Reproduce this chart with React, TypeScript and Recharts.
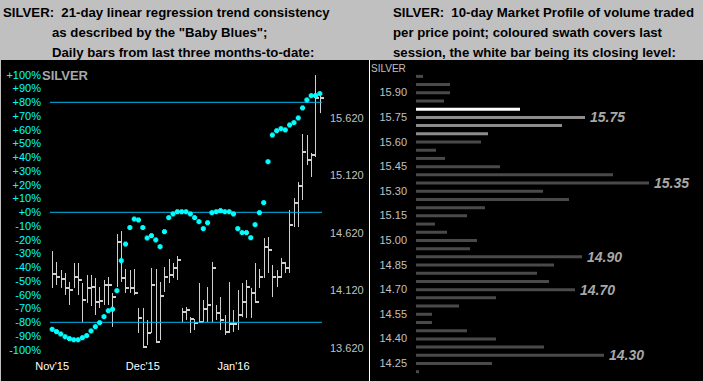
import React from 'react';
import { ComposedChart, BarChart, Bar, Scatter, XAxis, YAxis, ReferenceLine, Cell, LabelList } from 'recharts';

// daily bars, Nov'15 -> early Feb'16
const highs = [14.463, 14.368, 14.298, 14.272, 14.194, 14.359, 14.359, 14.185, 14.255, 14.255, 14.229, 14.15, 14.211, 14.237, 14.098, 14.611, 14.637, 14.307, 14.298, 14.307, 13.968, 13.968, 13.863, 14.316, 14.307, 14.194, 14.324, 14.394, 14.359, 14.42, 13.968, 13.976, 13.889, 13.872, 14.185, 14.037, 14.15, 14.368, 13.994, 14.063, 13.907, 14.194, 13.95, 14.124, 14.185, 14.211, 14.142, 14.359, 14.307, 14.576, 14.585, 14.342, 14.298, 14.403, 14.368, 14.82, 14.924, 15.063, 15.481, 15.472, 15.316, 15.994, 15.846];
const lows = [14.142, 14.168, 14.142, 14.081, 13.994, 14.142, 14.081, 13.846, 14.011, 13.985, 13.907, 13.968, 13.994, 13.994, 13.803, 14.15, 14.194, 14.098, 14.098, 14.081, 13.75, 13.62, 13.646, 13.75, 13.663, 13.689, 14.107, 14.185, 14.229, 14.211, 13.846, 13.863, 13.75, 13.776, 13.846, 13.846, 13.846, 13.846, 13.863, 13.776, 13.733, 13.75, 13.759, 13.776, 13.889, 13.881, 13.881, 14.011, 14.142, 14.229, 14.272, 14.063, 14.15, 14.229, 14.272, 14.272, 14.672, 14.672, 14.907, 15.211, 15.107, 15.281, 15.663];
const closes = [14.263, 14.237, 14.22, 14.142, 14.124, 14.237, 14.211, 14.037, 14.142, 14.15, 14.02, 14.029, 14.168, 14.168, 14.063, 14.542, 14.229, 14.142, 14.142, 14.098, 13.881, 13.629, 13.75, 14.168, 13.672, 14.072, 14.237, 14.255, 14.316, 14.385, 13.933, 13.95, 13.872, 13.837, 13.846, 13.959, 13.994, 14.316, 13.924, 13.863, 13.759, 13.829, 13.829, 13.907, 14.02, 14.15, 14.098, 14.02, 14.237, 14.498, 14.472, 14.237, 14.237, 14.359, 14.316, 14.689, 14.881, 15.029, 15.324, 15.255, 15.298, 15.794, 15.794];
// "Baby Blues" trend consistency, %
const blues = [-85.1, -86.8, -88.5, -90.5, -91.9, -92.7, -92.7, -91.2, -89.7, -86.3, -83.2, -80.3, -75.9, -71.6, -70.5, -57, -35.2, -23.1, -11.1, -4.9, -5.6, -11.1, -18.7, -17, -20.1, -25, -14.1, -3.9, -1.2, 0.4, 0.4, 0.4, -1.2, -3.9, -6.8, -11.9, -7.6, -0.3, 0.4, 1.2, 0.4, 0.4, -1.2, -11.9, -14.8, -14.8, -18.5, -9, -0.3, 7, 36.8, 56.2, 59.3, 60.8, 59.9, 63.5, 65.2, 68.6, 75.9, 81.7, 84.8, 84.8, 86.3];

const monthTicks = [0, 21, 42];
const monthLabels = ["Nov'15", "Dec'15", "Jan'16"];
const pctTicks = [100, 90, 80, 70, 60, 50, 40, 30, 20, 10, 0, -10, -20, -30, -40, -50, -60, -70, -80, -90, -100];
const priceTicks = [15.62, 15.12, 14.62, 14.12, 13.62];
const trendLevels = [80, 0, -80];

// 10-day market profile
const profilePrices = ['16.00', '15.95', '15.90', '15.85', '15.80', '15.75', '15.70', '15.65', '15.60', '15.55', '15.50', '15.45', '15.40', '15.35', '15.30', '15.25', '15.20', '15.15', '15.10', '15.05', '15.00', '14.95', '14.90', '14.85', '14.80', '14.75', '14.70', '14.65', '14.60', '14.55', '14.50', '14.45', '14.40', '14.35', '14.30', '14.25', '14.20'];
const profileVolume = [7, 34, 34, 28, 104, 169, 146, 72, 65, 20, 29, 84, 197, 233, 127, 153, 69, 51, 19, 31, 61, 54, 166, 138, 121, 133, 159, 80, 43, 16, 16, 51, 80, 128, 188, 76, 3];
const profileTickLabels = ['15.90', '15.75', '15.60', '15.45', '15.30', '15.15', '15.00', '14.85', '14.70', '14.55', '14.40', '14.25'];
const swathPrices = ['15.75', '15.70', '15.65'];
const closingPrice = '15.80';
const volumePeaks = ['15.75', '15.35', '14.90', '14.70', '14.30'];

const days = highs.map((h, i) => ({
  i,
  range: [lows[i], h],
  high: h,
  low: lows[i],
  close: closes[i],
  blue: blues[i],
}));

const profile = profilePrices.map((p, i) => ({
  price: p,
  volume: profileVolume[i],
  peak: volumePeaks.includes(p) ? p : undefined,
}));

const font = '"Liberation Sans", Arial, sans-serif';

const DayBar = (props: any) => {
  const { x, y, width, height, payload } = props;
  const top = Math.min(y, y + height);
  const h = Math.abs(height);
  const cx = Math.round(x + width / 2);
  const span = payload.high - payload.low || 1;
  const cy = top + ((payload.high - payload.close) / span) * h;
  return (
    <g>
      <rect x={cx} y={top} width={1} height={Math.max(h, 1)} fill="#d0d0d0" />
      <rect x={cx} y={Math.round(cy) - 1} width={4} height={2} fill="#d0d0d0" />
    </g>
  );
};

const BlueDot = (props: any) => {
  const { cx, cy } = props;
  return (
    <g fill="#00ffff">
      <rect x={cx - 2.5} y={cy - 1.5} width={5} height={3} />
      <rect x={cx - 1.5} y={cy - 2.5} width={3} height={5} />
    </g>
  );
};

const pctLabel = (v: number) => (v >= 0 ? `+${v}%` : `${v}%`);

const barColor = (p: string) => {
  if (p === closingPrice) return '#ffffff';
  if (swathPrices.includes(p)) return '#8c8c8c';
  return '#4a4a4a';
};

const titleStyle: React.CSSProperties = {
  position: 'absolute',
  fontFamily: font,
  fontWeight: 'bold',
  fontSize: 13.2,
  lineHeight: '14px',
  color: '#000',
  whiteSpace: 'nowrap',
};

export default function App() {
  return (
    <div style={{ position: 'absolute', left: 0, top: 0, width: 703, height: 381, background: '#c0c0c0', fontFamily: font, overflow: 'hidden' }}>
      <div style={{ ...titleStyle, left: 3, top: 6 }}>SILVER:&nbsp; 21-day linear regression trend consistency</div>
      <div style={{ ...titleStyle, left: 52, top: 26 }}>as described by the "Baby Blues";</div>
      <div style={{ ...titleStyle, left: 52, top: 46 }}>Daily bars from last three months-to-date:</div>
      <div style={{ ...titleStyle, left: 393, top: 6 }}>SILVER:&nbsp; 10-day Market Profile of volume traded</div>
      <div style={{ ...titleStyle, left: 393, top: 26 }}>per price point; coloured swath covers last</div>
      <div style={{ ...titleStyle, left: 393, top: 46 }}>session, the white bar being its closing level:</div>

      <div style={{ position: 'absolute', left: 1, top: 60, width: 702, height: 321, background: '#000' }} />

      <div style={{ position: 'absolute', left: 0, top: 60 }}>
        <ComposedChart width={369} height={321} data={days} margin={{ top: 14.8, right: 0, bottom: 0, left: 0 }}>
          <XAxis
            type="number"
            dataKey="i"
            domain={[-0.5, 62.5]}
            ticks={monthTicks}
            tickFormatter={(v) => monthLabels[monthTicks.indexOf(v)]}
            axisLine={false}
            tickLine={false}
            tickSize={0}
            tickMargin={12}
            height={31.2}
            tick={{ fill: '#ffffff', fontSize: 11 }}
          />
          <YAxis
            yAxisId="pct"
            type="number"
            domain={[-100, 100]}
            ticks={pctTicks}
            interval={0}
            allowDataOverflow
            tickFormatter={pctLabel}
            axisLine={false}
            tickLine={false}
            tickSize={0}
            tickMargin={9}
            width={50}
            tick={{ fill: '#00ffff', fontSize: 11 }}
          />
          <YAxis
            yAxisId="price"
            orientation="right"
            type="number"
            domain={[13.604, 15.996]}
            ticks={priceTicks}
            interval={0}
            allowDataOverflow
            tickFormatter={(v) => v.toFixed(3)}
            axisLine={false}
            tickLine={false}
            tickSize={0}
            tickMargin={8}
            width={47}
            tick={{ fill: '#c0c0c0', fontSize: 11 }}
          />
          {trendLevels.map((lv) => (
            <ReferenceLine key={lv} yAxisId="pct" y={lv} stroke="#00b8f0" strokeWidth={1} />
          ))}
          <Bar yAxisId="price" dataKey="range" barSize={2} shape={DayBar} isAnimationActive={false} />
          <Scatter yAxisId="pct" dataKey="blue" shape={BlueDot} isAnimationActive={false} />
        </ComposedChart>
      </div>
      <div style={{ position: 'absolute', left: 42, top: 69, fontSize: 13, lineHeight: '13px', fontWeight: 'bold', color: '#a8a8a8' }}>SILVER</div>

      <div style={{ position: 'absolute', left: 369, top: 60, width: 1, height: 321, background: '#ffffff' }} />
      <div style={{ position: 'absolute', left: 369, top: 60 }}>
        <BarChart layout="vertical" width={334} height={321} data={profile} margin={{ top: 11.9, right: 7, bottom: 5.6, left: 0 }} barCategoryGap={0}>
          <XAxis type="number" hide domain={[0, 280]} />
          <YAxis
            type="category"
            dataKey="price"
            interval={0}
            tickFormatter={(v) => (profileTickLabels.includes(v) ? v : '')}
            axisLine={false}
            tickLine={false}
            tickSize={0}
            tickMargin={9}
            width={47}
            tick={{ fill: '#c0c0c0', fontSize: 11 }}
          />
          <Bar dataKey="volume" barSize={3} isAnimationActive={false}>
            {profile.map((d) => (
              <Cell key={d.price} fill={barColor(d.price)} />
            ))}
            <LabelList
              dataKey="peak"
              position="right"
              offset={5}
              style={{ fill: '#a8a8a8', fontSize: 14, fontWeight: 'bold', fontStyle: 'italic' }}
            />
          </Bar>
        </BarChart>
      </div>
      <div style={{ position: 'absolute', left: 371, top: 64, fontSize: 10, lineHeight: '10px', color: '#c0c0c0' }}>SILVER</div>
    </div>
  );
}
